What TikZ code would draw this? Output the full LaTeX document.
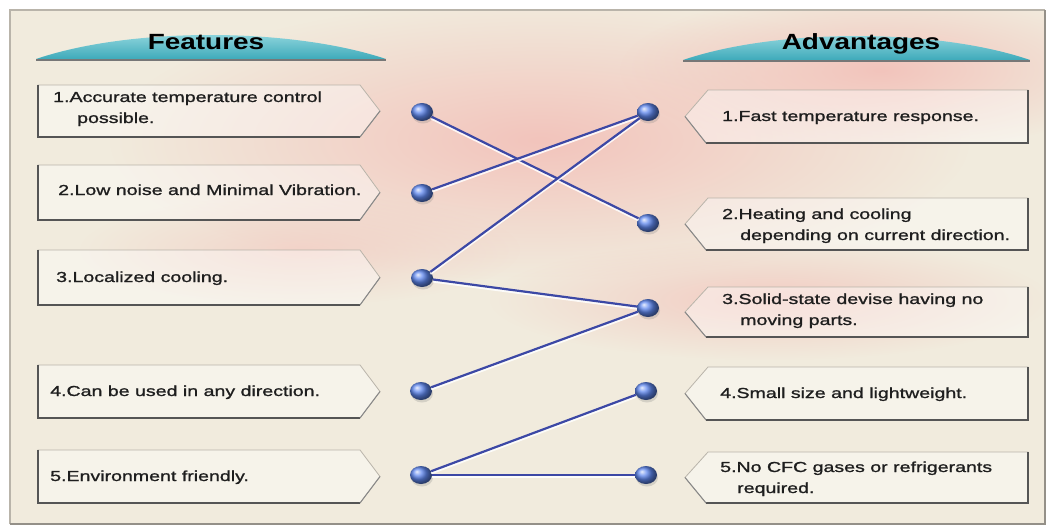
\documentclass[tikz,border=0pt]{standalone}
\usepackage{fontspec}
\setmainfont{Liberation Sans}
\newfontfamily\bodyfont[FakeStretch=1.35,FakeBold=1.2]{Liberation Sans}
\newfontfamily\headfont[FakeStretch=1.27]{Liberation Sans}
\usetikzlibrary{shapes.geometric,shadings,shadows,fadings}

\definecolor{cream}{RGB}{241,235,221}
\definecolor{pinkbg}{RGB}{243,196,188}
\definecolor{tealA}{RGB}{165,225,230}
\definecolor{tealB}{RGB}{62,170,186}
\definecolor{edgedark}{RGB}{85,85,85}
\definecolor{edgelight}{RGB}{185,180,170}
\definecolor{linkblue}{RGB}{60,72,165}
\definecolor{ballblue}{RGB}{95,135,238}
\definecolor{txt}{RGB}{30,30,30}

\tikzfading[name=softblob, inner color=transparent!0, outer color=transparent!100]

\begin{document}
\begin{tikzpicture}[x=1pt,y=-1pt,
  blob/.style={fill=pinkbg, path fading=softblob},
  boxfill/.style={fill=white, fill opacity=0.4, draw=edgelight, line width=0.8},
  boxedge/.style={draw=edgedark, line width=1.6, line join=miter},
  boxslant/.style={draw=edgedark!70, line width=1},
  lens/.style={top color=tealA, bottom color=tealB},
  lensbase/.style={draw=edgedark!80, line width=2},
  head/.style={font=\headfont\bfseries\fontsize{22}{26}\selectfont, text=black, inner sep=0},
  itemtext/.style={font=\bodyfont\fontsize{14.5}{18}\selectfont, text=txt, inner sep=0, anchor=base west},
  dot/.style={ellipse, minimum width=22, minimum height=18, inner sep=0, shading=ball, ball color=ballblue,
     drop shadow={opacity=0.25, shadow xshift=1pt, shadow yshift=-2.5pt}},
  linkshade/.style={draw=white, line width=2.2, opacity=0.85, transform canvas={yshift=-2pt}},
  link/.style={draw=linkblue, line width=2.2}
]
\useasboundingbox (0,0) rectangle (1051,527);
\fill[white] (0,0) rectangle (1051,527);

% background panel
\fill[cream] (10,10) rectangle (1045,524);
\begin{scope}
  \clip (10,10) rectangle (1045,524);
  \fill[blob] (540,140) ellipse (430 and 140);
  \fill[blob] (880,70) ellipse (260 and 80);
  \fill[blob, opacity=0.8] (770,300) ellipse (280 and 60);
  \fill[blob, opacity=0.6] (300,250) ellipse (220 and 55);
\end{scope}
\draw[edgelight, line width=1.5] (10,524) -- (10,10) -- (1045,10);
\draw[edgelight!80!black, line width=2] (10,524) -- (1045,524) -- (1045,10);

% headers
\shade[lens] (36,59) .. controls (130,27) and (290,27) .. (386,59) -- cycle;
\draw[lensbase] (36,60) -- (386,60);
\node[head] (hf) at (206,42) {Features};
\shade[lens] (683,60) .. controls (777,28) and (937,28) .. (1030,60) -- cycle;
\draw[lensbase] (683,61) -- (1030,61);
\node[head] (ha) at (861,44) {Advantages};

% left boxes
\foreach \t/\b in {85/137,165/220,250/305,365/418,450/503}{
  \path[boxfill] (38,\t) -- (360,\t) -- (380,{(\t+\b)/2}) -- (360,\b) -- (38,\b) -- cycle;
  \draw[boxedge] (38,\t) -- (38,\b) -- (360,\b);
  \draw[boxslant] (360,\b) -- (380,{(\t+\b)/2});
}
% right boxes
\foreach \t/\b in {90/143,198/250,287/337,367/420,452/503}{
  \path[boxfill] (708,\t) -- (1028,\t) -- (1028,\b) -- (706,\b) -- (685,{(\t+\b)/2}) -- cycle;
  \draw[boxedge] (1028,\t) -- (1028,\b) -- (706,\b);
  \draw[boxslant] (706,\b) -- (685,{(\t+\b)/2});
}

% left texts
\node[itemtext] (f1) at (53,102) {1.Accurate temperature control};
\node[itemtext] (f1b) at (77,123) {possible.};
\node[itemtext] (f2) at (58,195) {2.Low noise and Minimal Vibration.};
\node[itemtext] (f3) at (56,282) {3.Localized cooling.};
\node[itemtext] (f4) at (50,396) {4.Can be used in any direction.};
\node[itemtext] (f5) at (50,481) {5.Environment friendly.};

% right texts
\node[itemtext] (a1) at (722,121) {1.Fast temperature response.};
\node[itemtext] (a2) at (722,219) {2.Heating and cooling};
\node[itemtext] (a2b) at (740,240) {depending on current direction.};
\node[itemtext] (a3) at (722,304) {3.Solid-state devise having no};
\node[itemtext] (a3b) at (740,325) {moving parts.};
\node[itemtext] (a4) at (720,398) {4.Small size and lightweight.};
\node[itemtext] (a5) at (720,472) {5.No CFC gases or refrigerants};
\node[itemtext] (a5b) at (737,493) {required.};

% dots
\node[dot] (L1) at (422,112) {};
\node[dot] (L2) at (422,193) {};
\node[dot] (L3) at (422,278) {};
\node[dot] (L4) at (421,391) {};
\node[dot] (L5) at (421,475) {};
\node[dot] (R1) at (648,112) {};
\node[dot] (R2) at (648,223) {};
\node[dot] (R3) at (648,308) {};
\node[dot] (R4) at (646,391) {};
\node[dot] (R5) at (646,475) {};

% connectors
\foreach \a/\b in {L1/R2,L2/R1,L3/R1,L3/R3,L4/R3,L5/R4,L5/R5}{
  \draw[linkshade] (\a) -- (\b);
  \draw[link] (\a) -- (\b);
}
\end{tikzpicture}
\end{document}
